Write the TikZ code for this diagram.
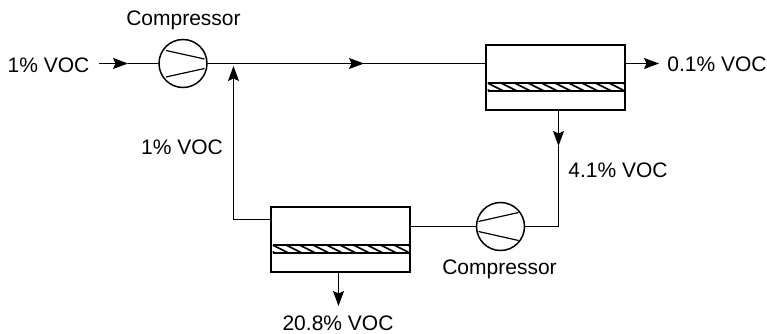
\documentclass[tikz,border=0pt]{standalone}
\usepackage{fontspec}
\setmainfont{Liberation Sans}
\usetikzlibrary{arrows.meta}
\usetikzlibrary{positioning}
\usetikzlibrary{calc}

\begin{document}
\begin{tikzpicture}[x=1pt, y=-1pt,
    every node/.style={font=\fontsize{21}{24}\selectfont},
    flow/.style={line width=1.2pt, -{Stealth[length=15pt, width=11pt, inset=2.5pt]}},
    pipe/.style={line width=1.2pt},
    label/.style={inner sep=0pt},
    unitbox/.style={rectangle, draw=black, line width=2pt, minimum width=139pt, minimum height=65pt, inner sep=0pt},
    compr/.style={circle, draw=black, line width=1.5pt, fill=white, minimum size=48pt, inner sep=0pt}]

      \useasboundingbox (0, 0) rectangle (767, 334);

      % Half width of a membrane layer
      \def\halfwidth{68}

      % Horizontal distance between hatch lines
      \def\hstep{13.5}

      % Membrane units: name, centre
      \foreach \name/\cx/\cy in {upper/555.5/77.5, lower/340.5/239.5} {
        \node[unitbox] (\name) at (\cx, \cy) {};

        % Layer below the centre of the unit
        \coordinate (\name tl) at (\cx-\halfwidth, \cy+5.5);
        \coordinate (\name br) at (\cx+\halfwidth, \cy+13.5);
        \begin{scope}
          \clip (\name tl) rectangle (\name br);
          \foreach \k in {-2,...,10} {
            \draw[line width=1.6pt] ($(\name tl)+(\k*\hstep, 0)$) -- ++(16, 8);
          }
        \end{scope}
        \draw[line width=1.2pt] (\name tl) -- (\name tl -| \name br);
        \draw[line width=1.2pt] (\name br -| \name tl) -- (\name br);
      }

      % Compressors
      \node[compr] (comp1) at (183, 63.5) {};
      \node[compr] (comp2) at (500.5, 226.5) {};

      % Blades of the compressors
      \draw[pipe] ($(comp1)+(-17, -13)$) -- ($(comp1)+(21.5, -4.5)$);
      \draw[pipe] ($(comp1)+(-17, 13.5)$) -- ($(comp1)+(21.5, 5)$);
      \draw[pipe] ($(comp2)+(-22, -5)$) -- ($(comp2)+(18, -14)$);
      \draw[pipe] ($(comp2)+(-22, 5)$) -- ($(comp2)+(18, 14)$);

      % Free ends and corners of the lines
      \coordinate (feed) at (99, 63.5);
      \coordinate (feedtip) at (128, 63.5);
      \coordinate (junction) at (235.5, 66);
      \coordinate (middle) at (364, 63.5);
      \coordinate (permeate) at (659, 63.5);
      \coordinate (bleed) at (338.5, 306);
      \coordinate (corner1) at (233.5, 219.5);
      \coordinate (corner2) at (558.5, 226.5);
      \coordinate (drop) at (558.5, 146);

      % Main line
      \draw[flow] (feed) -- (feedtip);
      \draw[pipe] (feedtip) -- (comp1.west);
      \draw[pipe] (comp1.east) -- (upper.west |- comp1);
      \draw[flow] (comp1.east) -- (middle);
      \draw[flow] (upper.east |- permeate) -- (permeate);

      % Recycle through the second unit
      \draw[flow] (upper.south -| drop) -- (drop);
      \draw[pipe] (drop) -- (corner2) -- (comp2.east);
      \draw[pipe] (comp2.west) -- (lower.east |- comp2);
      \draw[flow] (lower.west |- corner1) -- (corner1) -- (corner1 |- junction);
      \draw[flow] (lower.south -| bleed) -- (bleed);

      % Labels
      \node[label] (lfeed) at (48.5, 65) {1\% VOC};
      \node[label] (lcomp1) at (183.5, 20) {Compressor};
      \node[label] (lperm) at (717, 64) {0.1\% VOC};
      \node[label] (lrec) at (182, 147) {1\% VOC};
      \node[label] (lret) at (618, 170) {4.1\% VOC};
      \node[label] (lcomp2) at (499.5, 269) {Compressor};
      \node[label] (lbleed) at (338, 323.5) {20.8\% VOC};

    \end{tikzpicture}
\end{document}
